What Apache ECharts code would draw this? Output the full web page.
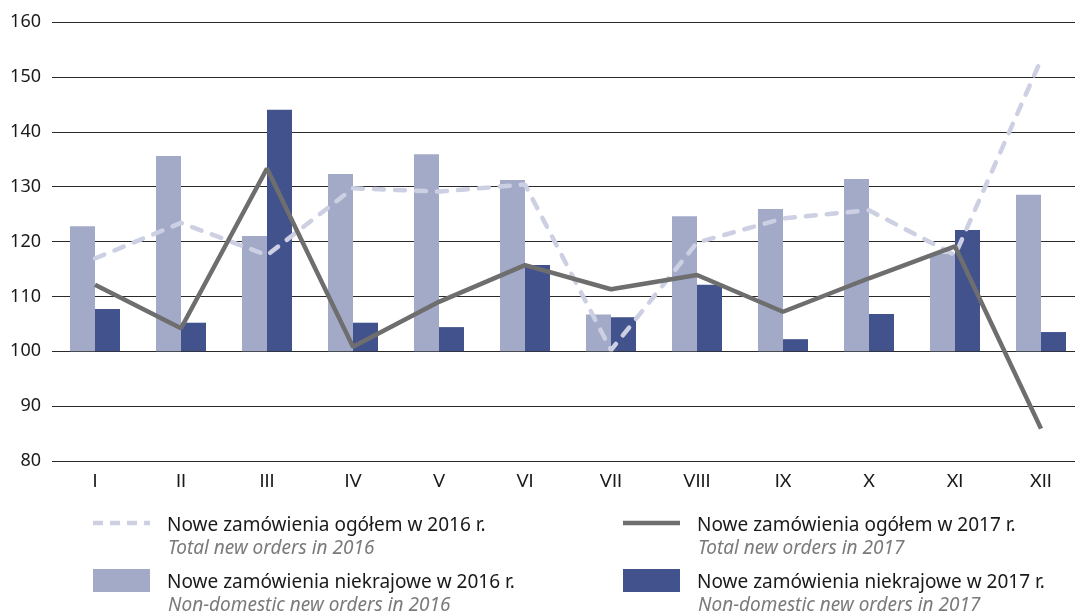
<!DOCTYPE html>
<html>
<head>
<meta charset="utf-8">
<script src="https://cdn.jsdelivr.net/npm/echarts@6/dist/echarts.min.js"></script>
<style>
  html, body { margin: 0; padding: 0; background: #fff; overflow: hidden; }
  #chart { width: 1090px; height: 613px; }
</style>
</head>
<body>
<div id="chart"></div>
<script>
// months
const months = ['I', 'II', 'III', 'IV', 'V', 'VI', 'VII', 'VIII', 'IX', 'X', 'XI', 'XII']
// non-domestic new orders (bars)
const nonDomestic2016 = [122.8, 135.6, 121.0, 132.3, 135.9, 131.2, 106.7, 124.6, 125.9, 131.4, 117.8, 128.5]
const nonDomestic2017 = [107.7, 105.2, 144.0, 105.2, 104.4, 115.7, 106.2, 112.1, 102.2, 106.8, 122.1, 103.5]
// total new orders (lines)
const total2016 = [116.9, 123.4, 117.5, 129.7, 129.1, 130.4, 100.2, 119.8, 124.2, 125.7, 117.5, 153.1]
const total2017 = [112.1, 104.2, 133.3, 100.8, 109.0, 115.7, 111.3, 113.9, 107.2, 113.3, 119.1, 85.9]
// bars grow from 100
const baseValue = 100

const FONT = 'Noto Sans'
const chart = echarts.init(document.getElementById('chart'))

const base = months.map(() => baseValue)
const rel = arr => arr.map(v => +(v - baseValue).toFixed(2))

// legend drawn by hand (two columns, two lines of text each)
const legendItem = (x, y, icon, title, sub) => {
  const els = []
  if (icon.type === 'dash') {
    els.push({
      type: 'line', shape: { x1: x, y1: y + 1, x2: x + 57, y2: y + 1 },
      style: { stroke: icon.color, lineWidth: icon.width, lineDash: icon.dash }
    })
  } else {
    els.push({
      type: 'rect', shape: { x: x, y: y - 10, width: 57, height: 23 },
      style: { fill: icon.color }
    })
  }
  els.push({
    type: 'text', left: x + 74, top: y - 6,
    style: { text: title, font: '19px "' + FONT + '"', fill: '#1a1a1a' }
  })
  els.push({
    type: 'text', left: x + 75, top: y + 17,
    style: { text: sub, font: 'italic 19px "' + FONT + '"', fill: '#7a7a7a' }
  })
  return els
}

const option = {
  animation: false,
  backgroundColor: '#fff',
  grid: { left: 52, top: 22, height: 439, width: 1032, containLabel: false },
  xAxis: {
    type: 'category',
    data: months,
    axisLine: { show: false },
    axisTick: { show: false },
    axisLabel: { color: '#1a1a1a', fontSize: 18, fontFamily: 'Lato', margin: 11 }
  },
  yAxis: {
    type: 'value',
    min: 80,
    max: 160,
    interval: 10,
    axisLine: { show: false },
    axisTick: { show: false },
    axisLabel: { color: '#1a1a1a', fontSize: 18, fontFamily: FONT, margin: 11 },
    splitLine: { lineStyle: { color: '#2a2a2a', width: 1 } }
  },
  series: [
    { name: 'base16', type: 'bar', stack: 'a', data: base, barWidth: 25, barGap: '0%',
      itemStyle: { color: 'transparent' }, silent: true },
    { name: 'Nowe zamówienia niekrajowe w 2016 r.', type: 'bar', stack: 'a', data: rel(nonDomestic2016),
      barWidth: 25, barGap: '0%', itemStyle: { color: '#a3aac8' } },
    { name: 'base17', type: 'bar', stack: 'b', data: base, barWidth: 25, barGap: '0%',
      itemStyle: { color: 'transparent' }, silent: true },
    { name: 'Nowe zamówienia niekrajowe w 2017 r.', type: 'bar', stack: 'b', data: rel(nonDomestic2017),
      barWidth: 25, barGap: '0%', itemStyle: { color: '#42528c' } },
    { name: 'Nowe zamówienia ogółem w 2016 r.', type: 'line', data: total2016, z: 3,
      symbol: 'none', lineStyle: { color: '#cdd0e3', width: 4.5, type: [10, 11], cap: 'round' } },
    { name: 'Nowe zamówienia ogółem w 2017 r.', type: 'line', data: total2017, z: 4,
      symbol: 'none', lineStyle: { color: '#6e6e6e', width: 4.5 } }
  ],
  graphic: [].concat(
    legendItem(93, 522, { type: 'dash', color: '#cdd0e3', width: 4.5, dash: [10, 7] },
      'Nowe zamówienia ogółem w 2016 r.', 'Total new orders in 2016'),
    legendItem(93, 579, { type: 'rect', color: '#a3aac8' },
      'Nowe zamówienia niekrajowe w 2016 r.', 'Non-domestic new orders in 2016'),
    legendItem(623, 522, { type: 'dash', color: '#6e6e6e', width: 4.5, dash: null },
      'Nowe zamówienia ogółem w 2017 r.', 'Total new orders in 2017'),
    legendItem(623, 579, { type: 'rect', color: '#42528c' },
      'Nowe zamówienia niekrajowe w 2017 r.', 'Non-domestic new orders in 2017')
  )
}
chart.setOption(option)
</script>
</body>
</html>
